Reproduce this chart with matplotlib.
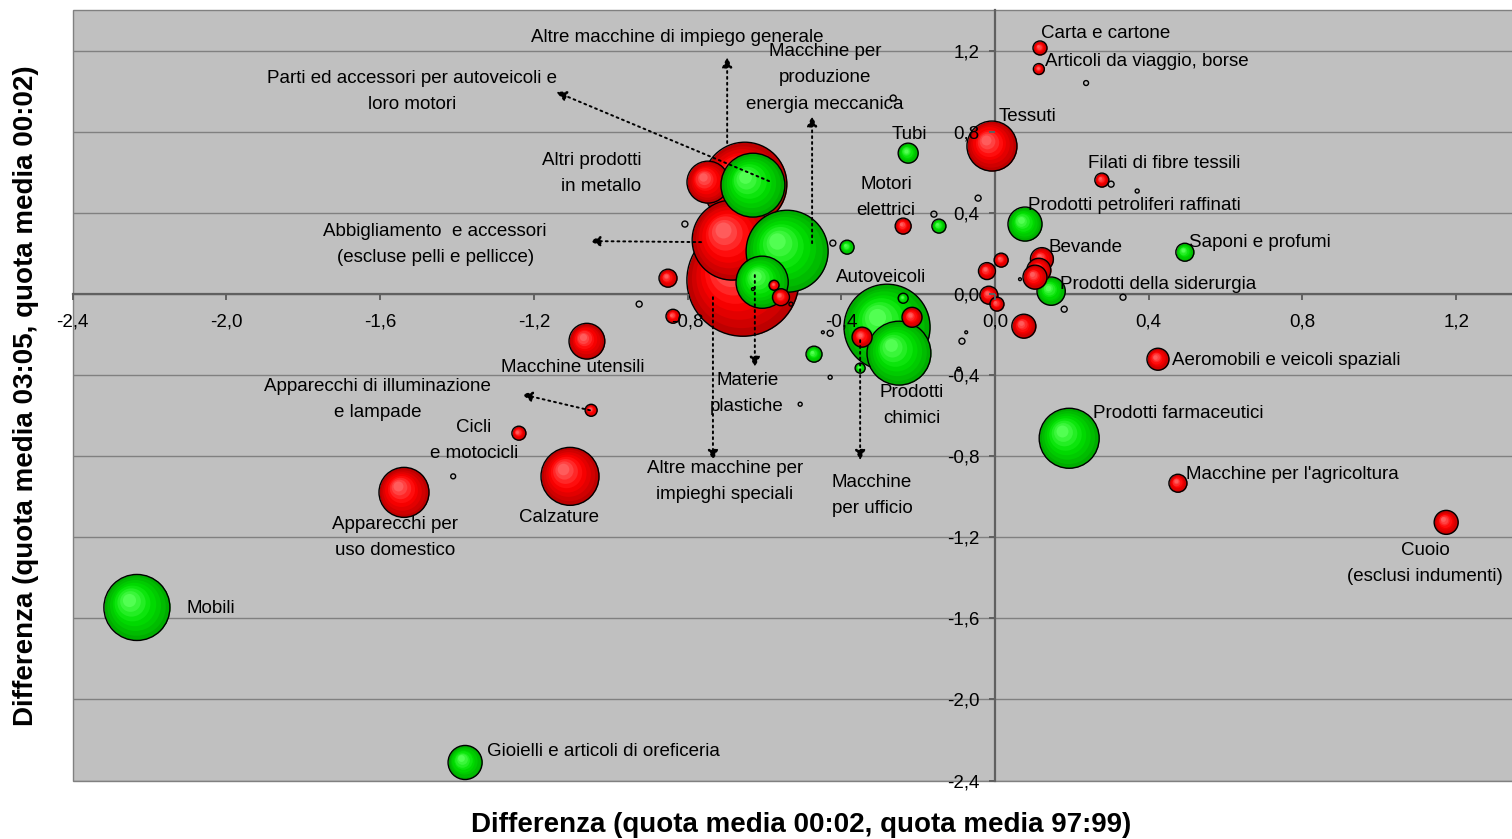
import numpy as np
import matplotlib
matplotlib.use('Agg')
import matplotlib.pyplot as plt
import matplotlib.transforms as mtransforms

plt.rcParams['font.family'] = ['Liberation Sans', 'DejaVu Sans']

DPI = 100

# ------------------------------- Data ------------------------------- #
# x: differenza quota media 00:02 - 97:99, y: differenza quota media 03:05 - 00:02
# group: 'r' / 'g' = the two bubble series, 'o' = tiny unfilled bubbles
bx = [-2.233, -1.379, -1.538, -1.106, -1.239, -1.051, -1.062, -0.851, -0.838,
      -0.656, -0.651, -0.684, -0.747, -0.630, -0.541, -0.606, -0.575, -0.557,
      -0.385, -0.471, -0.281, -0.250, -0.239, -0.216, -0.346, -0.351, -0.226,
      -0.239, -0.146, -0.008, 0.117, 0.114, 0.278, 0.078, 0.016, -0.021,
      0.146, 0.122, 0.114, 0.104, -0.016, 0.005, 0.075, 0.494, 0.424,
      0.193, 0.476, 1.174]
by = [-1.546, -2.311, -0.978, -0.899, -0.686, -0.573, -0.232, 0.079, -0.109,
      0.069, 0.543, 0.267, 0.553, 0.538, 0.212, 0.059, 0.044, -0.015,
      0.232, -0.296, -0.163, -0.291, -0.020, -0.114, -0.212, -0.365, 0.696,
      0.336, 0.336, 0.731, 1.215, 1.111, 0.563, 0.346, 0.168, 0.114,
      0.015, 0.173, 0.118, 0.084, -0.005, -0.049, -0.158, 0.207, -0.321,
      -0.711, -0.933, -1.126]
bsize = [10.9, 2.9, 6.25, 8.4, 0.49, 0.36, 3.2, 0.81, 0.49,
         31.4, 17.6, 16.0, 4.4, 10.2, 16.8, 6.8, 0.25, 0.72,
         0.49, 0.64, 18.5, 10.2, 0.25, 1.0, 1.0, 0.25, 1.0,
         0.64, 0.49, 6.25, 0.49, 0.30, 0.49, 2.9, 0.49, 0.72,
         2.0, 1.32, 1.44, 1.44, 0.81, 0.49, 1.44, 0.81, 1.21,
         9.0, 0.81, 1.44]
bgroup = ['g', 'g', 'r', 'r', 'r', 'r', 'r', 'r', 'r',
          'r', 'r', 'r', 'r', 'g', 'g', 'g', 'r', 'r',
          'g', 'g', 'g', 'g', 'g', 'r', 'r', 'g', 'g',
          'r', 'g', 'r', 'r', 'r', 'r', 'g', 'r', 'r',
          'g', 'r', 'r', 'r', 'r', 'r', 'r', 'g', 'r',
          'g', 'r', 'r']

ox = [0.237, -0.265, 0.302, 0.370, -0.044, -0.159, 0.065, 0.333, 0.180, -0.807,
      -0.926, -0.630, -0.531, -0.422, -0.429, -0.448, -0.429, -0.507, -1.410,
      -0.086, -0.075, -0.094]
oy = [1.042, 0.968, 0.543, 0.509, 0.474, 0.395, 0.074, -0.015, -0.074, 0.346,
      -0.049, 0.025, -0.049, 0.252, -0.193, -0.188, -0.410, -0.543, -0.899,
      -0.232, -0.188, -0.370]
osize = [0.06, 0.09, 0.09, 0.04, 0.09, 0.09, 0.02, 0.09, 0.09, 0.09,
         0.09, 0.02, 0.04, 0.09, 0.09, 0.02, 0.04, 0.04, 0.06,
         0.09, 0.02, 0.04]

xticks = [-2.4, -2.0, -1.6, -1.2, -0.8, -0.4, 0.0, 0.4, 0.8, 1.2]
yticks = [-2.4, -2.0, -1.6, -1.2, -0.8, -0.4, 0.0, 0.4, 0.8, 1.2]

# label text, anchor (data), horizontal alignment
labels = [
    ('Altre macchine di impiego generale', -0.827, 1.279, 'center'),
    ('Macchine per\nproduzione\nenergia meccanica', -0.442, 1.077, 'center'),
    ('Parti ed accessori per autoveicoli e\nloro motori', -1.517, 1.012, 'center'),
    ('Altri prodotti\nin metallo', -0.921, 0.607, 'right'),
    ('Abbigliamento  e accessori\n(escluse pelli e pellicce)', -1.457, 0.257, 'center'),
    ('Tubi', -0.224, 0.800, 'center'),
    ('Motori\nelettrici', -0.284, 0.489, 'center'),
    ('Autoveicoli', -0.297, 0.094, 'center'),
    ('Carta e cartone', 0.120, 1.294, 'left'),
    ('Articoli da viaggio, borse', 0.130, 1.156, 'left'),
    ('Tessuti', 0.010, 0.889, 'left'),
    ('Filati di fibre tessili', 0.242, 0.657, 'left'),
    ('Prodotti petroliferi raffinati', 0.086, 0.449, 'left'),
    ('Bevande', 0.138, 0.242, 'left'),
    ('Saponi e profumi', 0.505, 0.267, 'left'),
    ('Prodotti della siderurgia', 0.169, 0.059, 'left'),
    ('Aeromobili e veicoli spaziali', 0.461, -0.316, 'left'),
    ('Prodotti farmaceutici', 0.255, -0.578, 'left'),
    ("Macchine per l'agricoltura", 0.497, -0.879, 'left'),
    ('Cuoio\n(esclusi indumenti)', 1.119, -1.319, 'center'),
    ('Mobili', -2.105, -1.541, 'left'),
    ('Gioielli e articoli di oreficeria', -1.322, -2.247, 'left'),
    ('Apparecchi per\nuso domestico', -1.561, -1.190, 'center'),
    ('Calzature', -1.135, -1.091, 'center'),
    ('Cicli\ne motocicli', -1.356, -0.711, 'center'),
    ('Apparecchi di illuminazione\ne lampade', -1.606, -0.509, 'center'),
    ('Macchine utensili', -1.098, -0.351, 'center'),
    ('Materie\nplastiche', -0.645, -0.479, 'center'),
    ('Altre macchine per\nimpieghi speciali', -0.703, -0.914, 'center'),
    ('Prodotti\nchimici', -0.216, -0.538, 'center'),
    ('Macchine\nper ufficio', -0.320, -0.983, 'center'),
]

# dotted leader arrows: (tail x, tail y, head x, head y)
arrows = [
    (-0.697, 0.746, -0.697, 1.170),
    (-0.476, 0.252, -0.476, 0.879),
    (-0.588, 0.558, -1.142, 0.998),
    (-0.765, 0.257, -1.054, 0.262),
    (-0.625, 0.094, -0.625, -0.360),
    (-0.734, -0.015, -0.734, -0.820),
    (-0.351, -0.227, -0.351, -0.820),
    (-1.054, -0.573, -1.231, -0.494),
]

# --------------------------- Figure / axes --------------------------- #
fig = plt.figure(figsize=(15.12, 8.39), dpi=DPI)
ax = fig.add_axes([0.0481, 0.0697, 0.9658, 0.9178])
ax.set_xlim(-2.4, 1.4)
ax.set_ylim(-2.4, 1.4)
ax.set_facecolor('#c0c0c0')
ax.patch.set_edgecolor('#808080')
ax.patch.set_linewidth(1.0)

for yt in yticks:
    ax.axhline(yt, color='#808080', lw=1.0, zorder=0.5)

for side in ['top', 'right']:
    ax.spines[side].set_visible(False)
for side in ['left', 'bottom']:
    ax.spines[side].set_position(('data', 0))
    ax.spines[side].set_color('#606060')
    ax.spines[side].set_linewidth(1.6)
    ax.spines[side].set_zorder(1)

fmt = lambda v, _: f'{v:.1f}'.replace('.', ',')
ax.set_xticks(xticks)
ax.set_yticks(yticks)
ax.xaxis.set_major_formatter(plt.FuncFormatter(fmt))
ax.yaxis.set_major_formatter(plt.FuncFormatter(fmt))
ax.tick_params(axis='x', direction='out', length=4, width=1.4, color='#606060',
               labelsize=13.5, pad=10)
ax.tick_params(axis='y', direction='out', length=4, width=1.4, color='#606060',
               labelsize=13.5, pad=7)
ax.xaxis.set_zorder(12)
ax.yaxis.set_zorder(12)

# ----------------------------- Bubbles ------------------------------ #
palette = {
    'r': [(0.74, 0.0, 0.0), (1.0, 0.0, 0.0), (1.0, 0.36, 0.36)],
    'g': [(0.0, 0.68, 0.0), (0.0, 0.88, 0.0), (0.32, 1.0, 0.32)],
}


def shade(stops, t):
    dark, mid, light = [np.array(c) for c in stops]
    if t < 0.5:
        return dark + (mid - dark) * (t / 0.5)
    return mid + (light - mid) * ((t - 0.5) / 0.5)


def radius_px(s):
    return 10.0 * np.sqrt(s)


def draw_bubble(x, y, r, stops, z):
    n = 8
    for k in range(n):
        t = k / (n - 1)
        rk = r * (1 - 0.8 * t)
        off = 0.24 * r * t
        tr = mtransforms.offset_copy(ax.transData, fig=fig, x=-off, y=off, units='dots')
        ax.scatter([x], [y], s=(2 * rk * 72 / DPI) ** 2, color=[shade(stops, t)],
                   linewidths=0, transform=tr, zorder=z + k * 0.01)
    ax.scatter([x], [y], s=(2 * r * 72 / DPI) ** 2, facecolors='none',
               edgecolors='black', linewidths=1.0, zorder=z + 0.09)


for i, (x, y, s, g) in enumerate(zip(bx, by, bsize, bgroup)):
    draw_bubble(x, y, radius_px(s), palette[g], 3 + i * 0.1)

for x, y, s in zip(ox, oy, osize):
    ax.scatter([x], [y], s=(2 * radius_px(s) * 72 / DPI) ** 2, facecolors='none',
               edgecolors='black', linewidths=1.0, zorder=9)

# ----------------------------- Labels ------------------------------- #
lab_tr = mtransforms.offset_copy(ax.transData, fig=fig, x=0, y=-2, units='dots')
for txt, x, y, ha in labels:
    ax.text(x, y, txt, ha=ha, va='center', multialignment=ha, fontsize=13.5,
            linespacing=1.7, color='black', zorder=20, transform=lab_tr)

for x0, y0, x1, y1 in arrows:
    ax.annotate('', xy=(x1, y1), xytext=(x0, y0), zorder=15,
                arrowprops=dict(arrowstyle='-|>', color='black', lw=1.4,
                                linestyle=(0, (1, 2)), mutation_scale=15,
                                shrinkA=0, shrinkB=0))

fig.text(801 / 1512, 1 - 825 / 839, 'Differenza (quota media 00:02, quota media 97:99)',
         ha='center', va='center', fontsize=20, fontweight='bold')
fig.text(26 / 1512, 1 - 396 / 839, 'Differenza (quota media 03:05, quota media 00:02)',
         ha='center', va='center', rotation=90, fontsize=20, fontweight='bold')

fig.savefig('out.png', dpi=DPI, facecolor='white')
